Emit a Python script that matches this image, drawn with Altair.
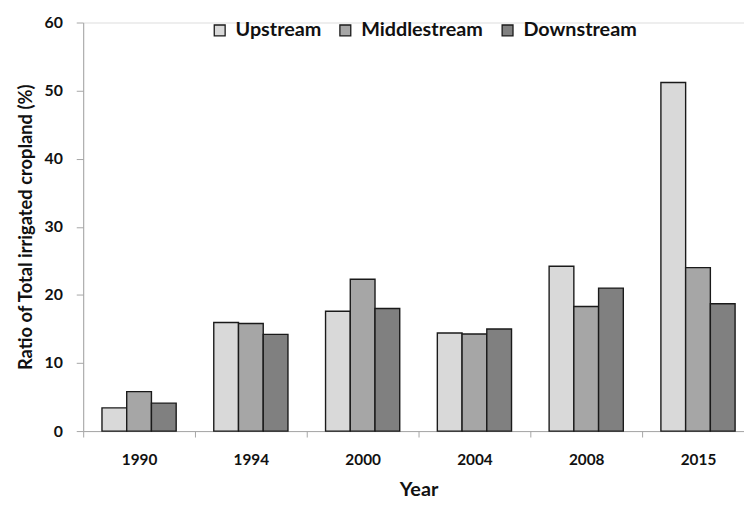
import altair as alt
import pandas as pd

years = ["1990", "1994", "2000", "2004", "2008", "2015"]
series = ["Upstream", "Middlestream", "Downstream"]
upstream = [3.4, 15.95, 17.6, 14.4, 24.2, 51.2]
middlestream = [5.8, 15.8, 22.3, 14.25, 18.3, 24.0]
downstream = [4.1, 14.2, 18.0, 15.0, 21.0, 18.7]
colors = ["#d9d9d9", "#a6a6a6", "#808080"]
y_ticks = [0, 10, 20, 30, 40, 50, 60]

rows = []
for name, vals in zip(series, [upstream, middlestream, downstream]):
    for yr, v in zip(years, vals):
        rows.append({"Year": yr, "Region": name, "Value": v})
df = pd.DataFrame(rows)

FONT = "Lato"

chart = alt.Chart(df).mark_bar(stroke="#1a1a1a", strokeWidth=1.4).encode(
    x=alt.X("Year:N", sort=years,
            scale=alt.Scale(paddingInner=0, paddingOuter=0, range=[0, 678]),
            axis=alt.Axis(title="Year", labelAngle=0, tickBand="extent",
                          domainColor="#a6a6a6", tickColor="#a6a6a6", tickSize=6,
                          labelFont=FONT, labelFontSize=15.5, labelFontWeight="bold",
                          labelColor="#111111", labelPadding=16,
                          titleFont=FONT, titleFontSize=20, titleFontWeight="bold",
                          titleColor="#111111", titlePadding=12)),
    xOffset=alt.XOffset("Region:N", sort=series,
                        scale=alt.Scale(paddingInner=0, paddingOuter=0.76)),
    y=alt.Y("Value:Q",
            scale=alt.Scale(domain=[0, 60], nice=False),
            axis=alt.Axis(title="Ratio of Total irrigated cropland (%)",
                          values=y_ticks, grid=False,
                          domainColor="#a6a6a6", tickColor="#a6a6a6", tickSize=7,
                          labelFont=FONT, labelFontSize=16, labelFontWeight="bold",
                          labelColor="#111111", labelPadding=14,
                          titleFont=FONT, titleFontSize=18.5, titleFontWeight="bold",
                          titleColor="#111111", titlePadding=9)),
    color=alt.Color("Region:N", sort=series,
                    scale=alt.Scale(domain=series, range=colors),
                    legend=alt.Legend(title=None, orient="none", direction="horizontal",
                                      legendX=128, legendY=-2, padding=0,
                                      symbolType="square", symbolSize=121,
                                      symbolStrokeColor="#1a1a1a", symbolStrokeWidth=1.3,
                                      symbolOpacity=1,
                                      labelFont=FONT, labelFontSize=20, labelFontWeight="bold",
                                      labelColor="#111111", labelOffset=6,
                                      columnPadding=14)),
).properties(
    width=668,
    height=413,
    autosize=alt.AutoSizeParams(type="none"),
    padding={"left": 76, "top": 12, "right": 0, "bottom": 68},
).configure_view(stroke=None).configure(background="white")

chart.save("out.html", embed_options={"renderer": "svg", "actions": False})
